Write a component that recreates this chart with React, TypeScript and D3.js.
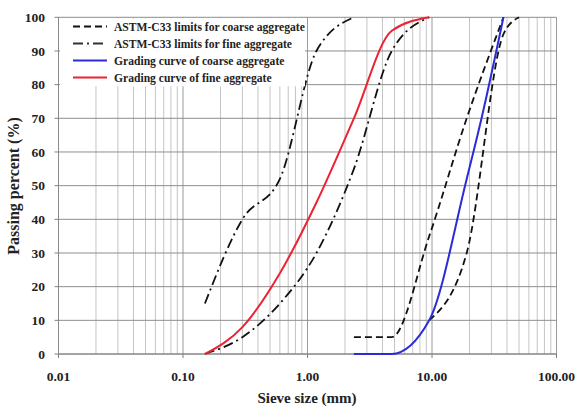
import React from "react";
import * as d3 from "d3";

// Sieve sizes (mm) and passing percentages for each curve
const coarseUpperSize = [2.36, 4.75, 9.5, 19, 37.5];
const coarseUpperPass = [5, 5, 35, 70, 100];
const coarseLowerSize = [9.5, 19, 37.5, 50];
const coarseLowerPass = [10, 30, 95, 100];
const fineUpperSize = [0.15, 0.3, 0.6, 1.18, 2.36];
const fineUpperPass = [15, 40, 52, 90, 100];
const fineLowerSize = [0.15, 0.3, 0.6, 1.18, 2.36, 4.75, 9.5];
const fineLowerPass = [0, 5, 15, 30, 55, 90, 100];
const coarseGradingSize = [2.36, 4.75, 9.5, 19, 25, 37.5];
const coarseGradingPass = [0, 0, 10, 52, 70, 100];
const fineGradingSize = [0.15, 0.3, 0.6, 1.18, 2.36, 4.75, 9.5];
const fineGradingPass = [0, 8, 24, 45, 70, 96, 100];

const xTickValues = [0.01, 0.1, 1, 10, 100];
const xTickLabels = ["0.01", "0.10", "1.00", "10.00", "100.00"];
const yTickValues = [0, 10, 20, 30, 40, 50, 60, 70, 80, 90, 100];

const legendLabels = [
  "ASTM-C33 limits for coarse aggregate",
  "ASTM-C33 limits for fine aggregate",
  "Grading curve of coarse aggregate",
  "Grading curve of fine aggregate",
];

const W = 579;
const H = 407;
const left = 58.5;
const right = 556.5;
const top = 17.3;
const bottom = 354;

const FONT = "'Liberation Serif', 'Times New Roman', serif";

const COARSE_DASH = "7,4";
const FINE_DASH = "10,4,2,4";
const BLUE = "#2b2bd9";
const RED = "#ee2233";

export default function App() {
  const x = d3.scaleLog().domain([0.01, 100]).range([left, right]);
  const y = d3.scaleLinear().domain([0, 100]).range([bottom, top]);

  const line = d3
    .line<[number, number]>()
    .x((d) => x(d[0]))
    .y((d) => y(d[1]))
    .curve(d3.curveMonotoneX);

  const pts = (s: number[], p: number[]) =>
    s.map((v, i) => [v, p[i]] as [number, number]);

  // minor + major vertical gridlines on the log axis
  const vLines: { v: number; major: boolean }[] = [];
  for (let e = -2; e < 2; e++) {
    for (let m = 1; m <= 9; m++) {
      vLines.push({ v: m * Math.pow(10, e), major: m === 1 });
    }
  }
  vLines.push({ v: 100, major: true });

  const series = [
    { d: line(pts(coarseUpperSize, coarseUpperPass)), stroke: "#111", dash: COARSE_DASH, w: 1.8 },
    { d: line(pts(coarseLowerSize, coarseLowerPass)), stroke: "#111", dash: COARSE_DASH, w: 1.8 },
    { d: line(pts(fineUpperSize, fineUpperPass)), stroke: "#111", dash: FINE_DASH, w: 1.8 },
    { d: line(pts(fineLowerSize, fineLowerPass)), stroke: "#111", dash: FINE_DASH, w: 1.8 },
    { d: line(pts(coarseGradingSize, coarseGradingPass)), stroke: BLUE, dash: undefined, w: 2 },
    { d: line(pts(fineGradingSize, fineGradingPass)), stroke: RED, dash: undefined, w: 2 },
  ];

  const legendStyles = [
    { stroke: "#111", dash: COARSE_DASH },
    { stroke: "#333", dash: FINE_DASH },
    { stroke: BLUE, dash: undefined },
    { stroke: RED, dash: undefined },
  ];

  return (
    <svg
      width={W}
      height={H}
      style={{ position: "absolute", left: 0, top: 0, background: "#fff" }}
      fontFamily={FONT}
    >
      <rect width={W} height={H} fill="#fff" />
      {/* gridlines */}
      {vLines.map((g, i) => (
        <line
          key={"v" + i}
          x1={x(g.v)}
          x2={x(g.v)}
          y1={top}
          y2={bottom}
          stroke={g.major ? "#9a9a9a" : "#c4c4c4"}
          strokeWidth={1}
        />
      ))}
      {yTickValues.map((t) => (
        <line
          key={"h" + t}
          x1={left}
          x2={right}
          y1={y(t)}
          y2={y(t)}
          stroke="#8e8e8e"
          strokeWidth={1}
        />
      ))}
      {/* axes */}
      <line x1={left} x2={left} y1={top} y2={bottom} stroke="#8a8a8a" />
      <line x1={left} x2={right} y1={bottom} y2={bottom} stroke="#808080" />
      {xTickValues.map((t) => (
        <line key={"xt" + t} x1={x(t)} x2={x(t)} y1={bottom} y2={bottom + 4} stroke="#808080" />
      ))}
      {yTickValues.map((t) => (
        <line key={"yt" + t} x1={left - 4} x2={left} y1={y(t)} y2={y(t)} stroke="#808080" />
      ))}

      {/* curves */}
      {series.map((s, i) => (
        <path
          key={"s" + i}
          d={s.d || ""}
          fill="none"
          stroke={s.stroke}
          strokeWidth={s.w}
          strokeDasharray={s.dash}
        />
      ))}

      {/* legend */}
      <rect x={left + 1.5} y={top + 1} width={245} height={68} fill="#fff" />
      {legendLabels.map((lab, i) => {
        const ly = 26.5 + i * 17;
        const st = legendStyles[i];
        return (
          <g key={"lg" + i}>
            <line
              x1={73}
              x2={107}
              y1={ly}
              y2={ly}
              stroke={st.stroke}
              strokeWidth={2}
              strokeDasharray={st.dash}
            />
            <text
              x={114}
              y={ly}
              dy="0.35em"
              fontSize={11.6}
              fontWeight="bold"
              fill="#222"
            >
              {lab}
            </text>
          </g>
        );
      })}

      {/* tick labels */}
      {xTickValues.map((t, i) => (
        <text
          key={"xl" + t}
          x={x(t)}
          y={381}
          textAnchor="middle"
          fontSize={13.5}
          fontWeight="bold"
          fill="#222"
        >
          {xTickLabels[i]}
        </text>
      ))}
      {yTickValues.map((t) => (
        <text
          key={"yl" + t}
          x={45}
          y={y(t)}
          dy="0.35em"
          textAnchor="end"
          fontSize={13.5}
          fontWeight="bold"
          fill="#222"
        >
          {t}
        </text>
      ))}

      {/* axis titles */}
      <text
        x={307}
        y={403}
        textAnchor="middle"
        fontSize={15}
        fontWeight="bold"
        fill="#222"
      >
        Sieve size (mm)
      </text>
      <text
        transform={`translate(19,186) rotate(-90)`}
        textAnchor="middle"
        fontSize={16}
        fontWeight="bold"
        fill="#222"
      >
        Passing percent (%)
      </text>
    </svg>
  );
}
